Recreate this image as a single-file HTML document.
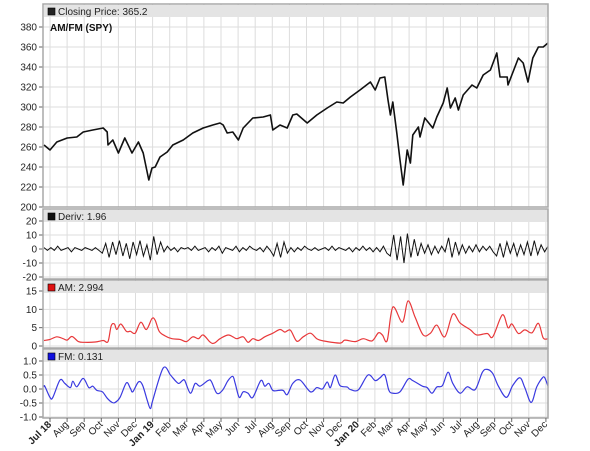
<!DOCTYPE html>
<html><head><meta charset="utf-8"><style>
body{margin:0;background:#fff;}
svg{display:block;font-family:"Liberation Sans",sans-serif;}
</style></head><body>
<svg id="c" width="590" height="451"></svg>
<script>
// ---- data (x domain: trading-day index 0..630, Jul 2018 .. Dec 2020) ----
const priceD=[0,7.5,16,29,41,49,61,74,79,80,86,93,101,110,118,124,131,135,139,145,154,161,174,186,199,211,220,224,229,236,243,249,261,274,283,286,295,304,311,316,329,341,354,366,374,383,395,408,414,420,426,430,433,436,441,445,449,454,458,461,468,470,476,486,491,499,504,508,514,518,524,535,541,549,558,566,570,579,580,593,599,605,611,618,624,630];
const priceV=[262,257,265,269,270,275,277,279,275,262,267,254,269,254,265,254,227,239,240,250,255,262,267,274,279,282,284,282,274,275,267,279,289,290,292,277,282,279,292,293,284,292,299,305,304,310,317,325,317,329,330,307,292,305,274,247,222,257,244,272,280,270,289,279,290,304,319,299,309,297,312,322,319,332,337,354,330,330,322,349,344,325,349,360,360,364];
const derivV=[1,-1,1,-1,2,-1,0,1,-2,1,0,-1,1,0,-1,1,-1,-3,4,-6,5,-4,6,-5,4,-7,5,-4,6,-5,3,-8,9,-4,5,-2,2,-1,1,-2,1,0,1,-1,2,-1,0,1,-2,1,-1,2,-3,1,0,-1,2,-2,1,-1,2,0,-1,1,-2,2,-1,-5,4,-6,5,-3,1,-2,1,-1,2,0,-1,1,-1,0,1,-1,2,-1,1,0,-1,1,-2,1,-1,2,-1,1,-2,1,-2,2,-3,-5,10,-8,9,-10,11,-6,7,-5,4,-3,3,-4,2,-3,2,-2,8,-6,5,-4,3,-3,2,-2,3,-2,2,-1,2,-2,-5,4,-6,5,-3,4,-5,3,-4,5,-5,6,-4,3,-2,2];
const amD=[0,7.5,16,24,29,35,43,51,64,74,80,84,88,91,96,103,108,114,121,128,135,139,144,151,160,170,178,186,193,199,208,213,220,230,236,241,249,255,261,268,276,286,295,301,308,316,324,333,341,349,370,376,389,399,410,418,423,429,436,448,455,464,474,483,491,501,511,520,533,541,554,561,573,580,585,593,601,610,618,624,630];
const amV=[1.5,1.8,2.5,2,1.6,2.6,1.2,1,1.1,1.5,1.2,5.5,6,4.5,6,4,4,3.5,6.5,4.5,7.5,7,4,2.8,2,1.8,1.2,2.5,2,3,1,0.8,2,3,2.5,2,2.5,1,2,1.5,2.5,3.5,4.5,3.8,4.3,1.3,2.5,3.5,2,1.4,0.8,1.6,1.2,2,1.4,3.6,3,1.5,10.6,6.5,12.3,7.8,3,3.5,5.7,2.5,8.7,6.3,4.4,3,3.4,2.5,8.5,5,6,3.4,4.4,3.6,6.2,2.2,2];
const fmD=[0,1,7.5,11,20,26,33,36,41,49,56,61,66,73,79,85,89,95,103,108,111,118,123,129,133,136,149,158,161,168,173,176,183,189,195,205,209,216,223,230,236,239,244,249,255,261,271,276,281,286,293,299,304,311,320,333,341,348,354,358,364,370,379,383,393,405,414,420,426,431,436,445,455,461,473,479,485,491,498,505,511,520,529,539,548,554,561,568,578,586,595,601,609,616,623,626,630];
const fmV=[0.07,0.1,-0.3,-0.3,0.32,0.2,0.05,0.28,0.08,0.38,0.05,0.1,-0.05,-0.1,-0.33,-0.48,-0.48,-0.3,0.22,0.02,-0.1,0.25,0.15,-0.4,-0.7,-0.4,0.75,0.5,0.4,0.2,0.3,0.3,-0.15,0.2,0.1,0.3,0.28,-0.15,-0.05,0.3,0.45,0.2,-0.3,-0.1,-0.15,-0.3,0.3,0.1,0.2,-0.05,-0.05,-0.05,-0.2,0.2,0.32,-0.1,0.05,0,0.25,0.05,0.5,0.12,0.07,-0.02,-0.03,0.5,0.3,0.4,0.5,-0.04,-0.15,-0.1,0.35,0.3,0.1,0.05,-0.15,0.07,0.12,0.6,0.2,-0.15,0.08,-0.02,0.6,0.7,0.55,0.1,-0.3,0.13,0.4,0.05,-0.48,0.08,0.4,0.4,0.1];
const monthLabels=["Jul 18","Aug","Sep","Oct","Nov","Dec","Jan 19","Feb","Mar","Apr","May","Jun","Jul","Aug","Sep","Oct","Nov","Dec","Jan 20","Feb","Mar","Apr","May","Jun","Jul","Aug","Sep","Oct","Nov","Dec"];
const boldLabels=["Jul 18","Jan 19","Jan 20"];
const priceTicks=[200,220,240,260,280,300,320,340,360,380];
const derivTicks=[-20,-10,0,10,20];
const amTicks=[0,5,10,15];
const fmTicks=[-1.0,-0.5,0.0,0.5,1.0];

const NS="http://www.w3.org/2000/svg";
const svg=document.getElementById('c');
function mk(tag,attrs,parent){const e=document.createElementNS(NS,tag);for(const k in attrs)e.setAttribute(k,attrs[k]);(parent||svg).appendChild(e);return e;}
const X0=44,X1=548;
const xs=d=>X0+d*(X1-X0)/630;
const monthX=m=>xs(7.5+21.375*m);
const lin=(v0,y0,v1,y1)=>v=>y0+(v-v0)*(y1-y0)/(v1-v0);

const panels=[
 {name:'price',top:4,bot:207,ys:lin(200,207,380,27),ticks:priceTicks,fmt:v=>String(v),title:'Closing Price: 365.2',sq:'#222'},
 {name:'deriv',top:209,bot:279,ys:lin(-20,277,20,221),ticks:derivTicks,fmt:v=>String(v),title:'Deriv: 1.96',sq:'#111'},
 {name:'am',top:280,bot:348,ys:lin(0,346,15,291),ticks:amTicks,fmt:v=>String(v),title:'AM: 2.994',sq:'#e01010'},
 {name:'fm',top:349,bot:418,ys:lin(-1,417,1,361),ticks:fmTicks,fmt:v=>v.toFixed(1),title:'FM: 0.131',sq:'#1010e0'}
];

function catmull(pts){
  let d='M'+pts[0][0].toFixed(1)+','+pts[0][1].toFixed(1);
  for(let i=0;i<pts.length-1;i++){
    const p0=pts[i-1]||pts[i],p1=pts[i],p2=pts[i+1],p3=pts[i+2]||p2;
    const c1=[p1[0]+(p2[0]-p0[0])/6,p1[1]+(p2[1]-p0[1])/6];
    const c2=[p2[0]-(p3[0]-p1[0])/6,p2[1]-(p3[1]-p1[1])/6];
    d+=`C${c1[0].toFixed(1)},${c1[1].toFixed(1)} ${c2[0].toFixed(1)},${c2[1].toFixed(1)} ${p2[0].toFixed(1)},${p2[1].toFixed(1)}`;
  }
  return d;
}

panels.forEach(p=>{
  const g=mk('g',{});
  
  
  mk('rect',{x:X0-1,y:p.top,width:X1-X0+1,height:p.bot-p.top,fill:'#fff'},g);
  p.ticks.forEach(t=>{
    const y=p.ys(t);
    const gl=mk('line',{x1:X0-1,x2:X1,y1:y,y2:y,stroke:'#ddd','stroke-width':1},g);
    
    
    mk('line',{x1:X0-5,x2:X0-1,y1:y,y2:y,stroke:'#666'},g);
    const tx=mk('text',{x:X0-7,y:y+3.5,'text-anchor':'end','font-size':'10',fill:'#222'},g);
    tx.textContent=p.fmt(t);
    
    
  });
  monthLabels.forEach((l,m)=>{
    const x=monthX(m);
    mk('line',{x1:x,x2:x,y1:p.top,y2:p.bot,stroke:'#ddd','stroke-width':1},g);
  });
  const tb=mk('rect',{x:X0,y:p.top+1,width:X1-X0,height:12,fill:'#e4e4e4'},g);
  
  
  const sq=mk('rect',{x:X0+4,y:p.top+4,width:7,height:7,fill:p.sq,stroke:'#000','stroke-width':0.6},g);
  
  
  const tt=mk('text',{x:X0+14,y:p.top+11,'font-size':'10',fill:'#222'},g);
  tt.textContent=p.title;
  
  
});

const t1=mk('text',{x:X0+6,y:31,'font-size':'10','font-weight':'bold',fill:'#111'});
t1.textContent='AM/FM (SPY)';



const pp=panels[0];
const pl=mk('polyline',{points:priceD.map((d,i)=>xs(d).toFixed(1)+','+pp.ys(priceV[i]).toFixed(1)).join(' '),fill:'none',stroke:'#111','stroke-width':1.6,'stroke-linejoin':'round'});



const pd=panels[1];
const dl=mk('polyline',{points:derivV.map((v,i)=>xs(i*630/(derivV.length-1)).toFixed(1)+','+pd.ys(v).toFixed(1)).join(' '),fill:'none',stroke:'#111','stroke-width':1});



const pa=panels[2];
const al=mk('path',{d:catmull(amD.map((d,i)=>[xs(d),pa.ys(amV[i])])),fill:'none',stroke:'#e8383a','stroke-width':1.2});



const pf=panels[3];
const fl=mk('path',{d:catmull(fmD.map((d,i)=>[xs(d),pf.ys(fmV[i])])),fill:'none',stroke:'#3a3ae0','stroke-width':1.2});



panels.forEach(p=>{
  const fr=mk('rect',{x:X0-1,y:p.top,width:X1-X0+1,height:p.bot-p.top,fill:'none',stroke:'#a8a8a8','stroke-width':1.5});
  
  
});

monthLabels.forEach((l,m)=>{
  const x=monthX(m);
  mk('line',{x1:x,x2:x,y1:418,y2:422,stroke:'#666'});
  const t=mk('text',{x:x+2,y:425,'text-anchor':'end','font-size':'10',fill:'#222','font-weight':boldLabels.includes(l)?'bold':'normal',transform:`rotate(-45 ${x+2} 425)`});
  t.textContent=l;
  
  
});
</script>
</body></html>
